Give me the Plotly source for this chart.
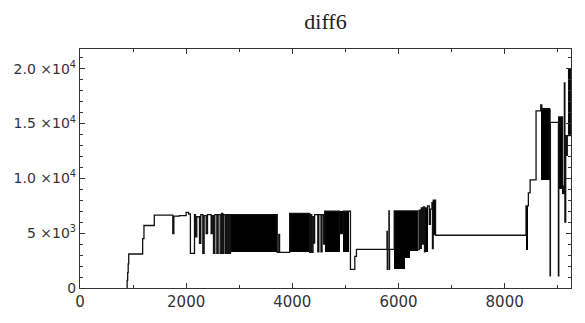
import plotly.graph_objects as go

# ---- data ----
step_x = [880, 888, 898, 908, 918, 1180, 1205, 1400, 1748, 1768, 1874, 2000, 2045, 2080,
          2157, 2175, 2200, 2251, 2276, 2314, 2339, 2377, 2402, 2471, 2490, 2515, 2540,
          2578, 2603, 2640, 2666, 2691, 2710, 2741, 2760, 2785, 2798, 2823, 2836, 2848,
          3716, 3745, 3760, 3950, 4327, 4345, 4365, 4390, 4400, 4420, 4480, 4500, 4540,
          4560, 4590, 4610, 4890, 4957, 5070, 5095, 5177, 5208, 5783, 5789, 5795, 5820,
          5826, 5832, 5920, 6360, 6390, 6410, 6430, 6450, 6470, 6490, 6497, 6547, 6580,
          6600, 6630, 6640, 6654, 6698, 8403, 8447, 8480, 8592, 8680, 8700, 8856, 8862,
          9013, 9020, 9090, 9105, 9125, 9135, 9150, 9165, 9180, 9205, 9245, 9250]
step_y = [0, 700, 1400, 2200, 3100, 4500, 5700, 6650, 4960, 6550, 6600, 6890, 6750, 3150,
          6700, 4660, 6500, 4070, 6700, 3150, 6600, 4960, 6700, 4960, 6600, 3150, 6700,
          3150, 6700, 3150, 6800, 3150, 6700, 3150, 6700, 3150, 6700, 3150, 6700, 6700,
          3250, 4900, 3250, 6800, 3250, 6700, 3250, 6500, 4100, 6700, 3300, 6700, 3300,
          6700, 4000, 7000, 4960, 7000, 7000, 1690, 2880, 3530, 5170, 1690, 3530, 7040,
          1690, 3530, 7040, 3500, 7100, 3620, 7300, 4000, 7400, 3300, 7300, 7490, 5800,
          7200, 7780, 3600, 8020, 4810, 7490, 8670, 9860, 16160, 16700, 16300, 1100, 15100,
          1100, 15600, 9300, 8600, 18700, 6000, 13900, 12100, 13900, 20000, 13900, 13900]

# dense oscillation blocks (appear solid black)
band_start = [2848, 3950, 4610, 4890, 4957, 5920, 6120, 6215, 6497, 6654, 8403, 8680, 9013, 9085, 9205]
band_end   = [3716, 4327, 4890, 4957, 5070, 6120, 6215, 6360, 6547, 6698, 8447, 8856, 9090, 9105, 9245]
band_low   = [3250, 3250, 3250, 4960, 3300, 1690, 2740, 3330, 3300, 4810, 3480, 9860, 9000, 8600, 13900]
band_high  = [6700, 6800, 7000, 7000, 7000, 7040, 7040, 7040, 7300, 8020, 7490, 16400, 15600, 9300, 20000]

x_tickvals = [0, 2000, 4000, 6000, 8000]
x_ticktext = ["0", "2000", "4000", "6000", "8000"]
y_tickvals = [0, 5000, 10000, 15000, 20000]
y_ticktext = ["0", "5 ×10<sup>3</sup>", "1.0 ×10<sup>4</sup>",
              "1.5 ×10<sup>4</sup>", "2.0 ×10<sup>4</sup>"]

title_text = "diff6"

# ---- figure ----
fig = go.Figure()

fig.add_trace(go.Bar(
    x=[(a + b) / 2 for a, b in zip(band_start, band_end)],
    width=[b - a for a, b in zip(band_start, band_end)],
    base=band_low,
    y=[h - l for h, l in zip(band_high, band_low)],
    marker=dict(color="#000000", line=dict(width=0)),
    showlegend=False, hoverinfo="skip",
))

fig.add_trace(go.Scatter(
    x=step_x, y=step_y, mode="lines",
    line=dict(color="#111111", width=1.3, shape="hv"),
    showlegend=False,
))

axis_common = dict(
    showgrid=False, zeroline=False, showline=True, linecolor="#333333", linewidth=1.2,
    mirror="ticks", ticks="inside", ticklen=5, tickwidth=1, tickcolor="#333333",
)

fig.update_xaxes(
    range=[0, 9250], tickmode="array", tickvals=x_tickvals, ticktext=x_ticktext,
    tickfont=dict(family="DejaVu Sans", size=15, color="#333333"),
    minor=dict(ticks="inside", ticklen=3, dtick=1000, tick0=0, tickcolor="#333333"),
    **axis_common,
)
fig.update_yaxes(
    range=[0, 21800], tickmode="array", tickvals=y_tickvals, ticktext=y_ticktext,
    tickfont=dict(family="DejaVu Sans", size=14, color="#333333"),
    minor=dict(ticks="inside", ticklen=3, dtick=1000, tick0=0, tickcolor="#333333"),
    **axis_common,
)

fig.update_layout(
    width=585, height=323,
    margin=dict(l=80, r=14, t=49, b=29),
    paper_bgcolor="white", plot_bgcolor="white",
    barmode="overlay", bargap=0,
    title=dict(text=title_text, x=0.5, xref="paper", y=1 - 21 / 323, yref="container",
               xanchor="center", yanchor="middle",
               font=dict(family="Liberation Serif", size=22, color="#222222")),
)

fig.write_html("out.html")
